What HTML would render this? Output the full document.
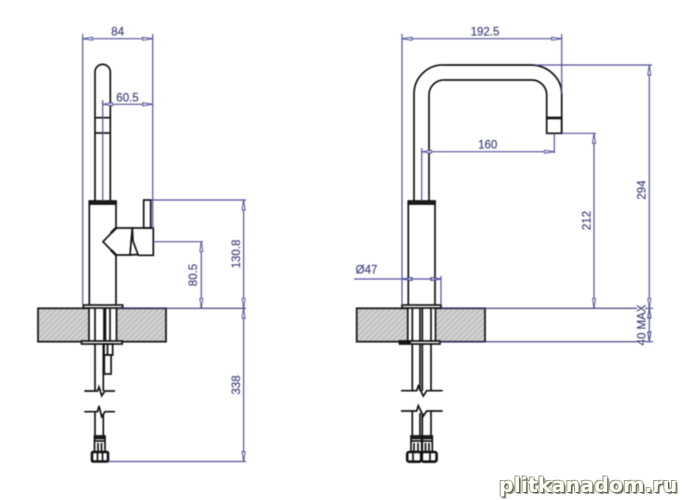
<!DOCTYPE html>
<html>
<head>
<meta charset="utf-8">
<style>
html,body{margin:0;padding:0;background:#fff;width:687px;height:500px;overflow:hidden}
svg{position:absolute;left:0;top:0;filter:blur(.4px)}
text{font-family:"Liberation Sans",sans-serif;font-size:11.5px;fill:#3c3c78;stroke:#3c3c78;stroke-width:.15;text-anchor:middle}
.d line,.d path{stroke:#50509a;stroke-width:1.2;fill:none}
.d line.a{marker-start:url(#ar);marker-end:url(#ar)}
.k line,.k path,.k rect,.k circle{stroke:#111;stroke-width:1.7;fill:none}
.k .w{fill:#fff}
.k .t{stroke-width:2.6}
.wm{position:absolute;left:499px;top:473px;width:187px;font:bold 20.5px "DejaVu Sans",sans-serif;letter-spacing:.1px;white-space:nowrap;color:#fcfcf2;text-shadow:-1px -1px 0 #9a9a8c,1px 1px 0 #5c5c50,2px 2px 0 #a5a598,1px -1px 0 #c5c5b8,-1px 1px 0 #c5c5b8}
</style>
</head>
<body>
<svg width="687" height="500" viewBox="0 0 687 500" xmlns="http://www.w3.org/2000/svg">
<defs>
<marker id="ar" markerUnits="userSpaceOnUse" markerWidth="14" markerHeight="6" refX="10.5" refY="3" orient="auto-start-reverse">
<path d="M.5,1.5 L10.5,3 L.5,4.5Z" fill="#fff" stroke="#50509a" stroke-width="1"/>
</marker>
<pattern id="h" width="4" height="4" patternUnits="userSpaceOnUse" patternTransform="rotate(-45)">
<rect width="4" height="4" fill="#c2c2c0"/>
<rect width="4" height="1.2" fill="#dcdcda"/>
</pattern>
</defs>

<!-- counters -->
<rect x="38" y="308.3" width="128" height="33.4" fill="url(#h)" stroke="#111" stroke-width="1.7"/>
<rect x="356.7" y="308.3" width="128.3" height="33.4" fill="url(#h)" stroke="#111" stroke-width="1.7"/>

<!-- LEFT faucet -->
<g class="k">
<rect class="w" x="89" y="308" width="28" height="33" style="stroke:none"/>
<line x1="89" y1="308" x2="89" y2="341"/><line x1="95" y1="308" x2="95" y2="341"/>
<line x1="104" y1="308" x2="104" y2="341"/><line class="t" x1="105" y1="308" x2="105" y2="341"/>
<line x1="110" y1="308" x2="110" y2="341"/><line x1="116.5" y1="308" x2="116.5" y2="341"/>
<path d="M95,201V72a7.6,7.6 0 0 1 15.3,0V201"/>
<line x1="95" y1="117.7" x2="110.3" y2="117.7"/><line x1="95" y1="133" x2="110.3" y2="133"/>
<line x1="89.3" y1="201" x2="89.3" y2="305"/><line x1="116" y1="201" x2="116" y2="228"/><line x1="116" y1="255" x2="116" y2="305"/>
<rect x="89.3" y="201" width="26.7" height="3" style="fill:#222"/>
<path d="M116,228 L103,241.7 L116,255 L130,255 L132.3,228Z"/>
<line class="t" x1="116" y1="228" x2="111" y2="233"/><line class="t" x1="116" y1="255" x2="111" y2="250"/>
<path d="M132.3,228 H153.3 V255.3 H138.3 L133,241 Z"/>
<line x1="130" y1="255" x2="138" y2="254.5"/>
<rect x="143.7" y="200" width="7" height="28"/>
<rect class="w" x="83.3" y="305" width="39.4" height="3"/>
<rect class="w" x="81.5" y="341" width="40.7" height="3"/>
<line x1="95" y1="344" x2="95" y2="391"/><line x1="103.3" y1="344" x2="103.3" y2="391"/>
<rect x="104" y="344" width="8.7" height="11"/>
<rect class="w" x="104.3" y="355" width="6.8" height="19"/>
<line x1="107.5" y1="344" x2="107.5" y2="355"/>
<path d="M84.3,391 H97.5 L99,387 L101.7,395.7 L105,391 H115"/>
<path d="M84.3,411.7 H97.5 L99,406 L101.7,416.7 L105,411.7 H115"/>
<line x1="95" y1="412" x2="95" y2="436"/><line x1="103.3" y1="414" x2="103.3" y2="436"/>
<rect x="94.5" y="436" width="10.5" height="16"/>
<line x1="94.5" y1="441" x2="105" y2="441"/><line class="t" x1="94.5" y1="438" x2="105" y2="438"/>
<line x1="98" y1="443" x2="98" y2="451"/><line x1="101.5" y1="443" x2="101.5" y2="451"/>
<rect class="t" x="92" y="452" width="16" height="9.5" rx="1"/>
<line x1="97.5" y1="452" x2="97.5" y2="461"/><line x1="102.5" y1="452" x2="102.5" y2="461"/>
</g>

<!-- RIGHT faucet -->
<g class="k">
<rect class="w" x="408" y="308" width="28.5" height="33" style="stroke:none"/>
<line x1="407.8" y1="308" x2="407.8" y2="341"/><line x1="412.3" y1="308" x2="412.3" y2="341"/>
<line x1="420" y1="308" x2="420" y2="341"/><line x1="422.3" y1="308" x2="422.3" y2="341"/>
<line x1="431" y1="308" x2="431" y2="341"/><line x1="435.5" y1="308" x2="435.5" y2="341"/>
<path d="M414,201V94A29,29 0 0 1 445,65H530A31,29 0 0 1 561.7,94V133.3"/>
<path d="M429,201V95A15,15 0 0 1 445,80H531.7A15,15 0 0 1 546.7,95V117.7"/>
<rect x="546.7" y="117.7" width="15" height="15.6"/>
<line class="t" x1="546.7" y1="118" x2="561.7" y2="118"/>
<line x1="408.3" y1="201" x2="408.3" y2="305"/><line x1="435" y1="201" x2="435" y2="305"/>
<rect x="408.3" y="201" width="26.7" height="3" style="fill:#222"/>
<rect class="w" x="402" y="305" width="39" height="3"/>
<rect class="w" x="399.5" y="341" width="40.5" height="3"/>
<line class="t" x1="400" y1="342" x2="411" y2="342"/>
<line x1="412.3" y1="344" x2="412.3" y2="391"/><line x1="420" y1="344" x2="420" y2="391"/>
<line x1="422.3" y1="344" x2="422.3" y2="391"/><line x1="431" y1="344" x2="431" y2="391"/>
<path d="M401,390.7 H416.7 L418.3,386 L423.3,396 L426.7,390.7 H442.7"/>
<path d="M401,411 H416.7 L418.3,405.7 L423.3,416 L426.7,411 H442.7"/>
<line x1="412.3" y1="411" x2="412.3" y2="436"/><line x1="420" y1="413" x2="420" y2="436"/>
<line x1="422.3" y1="413" x2="422.3" y2="436"/><line x1="431" y1="411" x2="431" y2="436"/>
<rect x="411" y="436" width="10.7" height="16"/><rect x="422.3" y="436" width="10" height="16"/>
<line class="t" x1="411" y1="438" x2="432.3" y2="438"/><line x1="411" y1="441" x2="432.3" y2="441"/>
<line x1="414" y1="443" x2="414" y2="451"/><line x1="418" y1="443" x2="418" y2="451"/>
<line x1="425.5" y1="443" x2="425.5" y2="451"/><line x1="429" y1="443" x2="429" y2="451"/>
<rect class="t" x="407.2" y="452" width="14" height="9.7" rx="2"/><rect class="t" x="421.8" y="452" width="14.8" height="9.7" rx="2"/>
<line x1="413" y1="452" x2="413" y2="461"/><line x1="430" y1="452" x2="430" y2="461"/>
</g>

<!-- LEFT dimensions -->
<g class="d">
<line x1="82.7" y1="34" x2="82.7" y2="305"/>
<line x1="152.7" y1="34" x2="152.7" y2="228"/>
<line class="a" x1="82.7" y1="38.7" x2="152.7" y2="38.7"/>
<line x1="102.7" y1="100" x2="102.7" y2="201"/>
<line class="a" x1="102.7" y1="104.3" x2="152.7" y2="104.3"/>
<line x1="150.7" y1="200" x2="246" y2="200"/>
<line class="a" x1="243.6" y1="200" x2="243.6" y2="308.3"/>
<line x1="153.3" y1="241.7" x2="203" y2="241.7"/>
<line class="a" x1="201.3" y1="241.7" x2="201.3" y2="308.3"/>
<line x1="117" y1="308.3" x2="246" y2="308.3" style="stroke:#33336f"/>
<line class="a" x1="243.6" y1="308.3" x2="243.6" y2="461.5"/>
<line x1="108" y1="461.5" x2="246" y2="461.5"/>
</g>

<!-- RIGHT dimensions -->
<g class="d">
<line x1="402" y1="34" x2="402" y2="305"/>
<line x1="561.7" y1="34" x2="561.7" y2="94"/>
<line class="a" x1="402" y1="38.7" x2="561.7" y2="38.7"/>
<line x1="535" y1="65" x2="652" y2="65"/>
<line class="a" x1="649.3" y1="65" x2="649.3" y2="308.3"/>
<line x1="561.7" y1="133.3" x2="596" y2="133.3"/>
<line class="a" x1="594" y1="133.3" x2="594" y2="308.3"/>
<line x1="554.3" y1="133.3" x2="554.3" y2="153"/>
<line x1="421.7" y1="148" x2="421.7" y2="201"/>
<line class="a" x1="421.7" y1="151.7" x2="554.3" y2="151.7"/>
<line x1="354" y1="279" x2="441" y2="279"/>
<line x1="441" y1="276" x2="441" y2="305"/>
<path d="M402,279 L412,277.6 V280.4 Z" style="fill:#fff"/>
<path d="M441,279 L431,277.6 V280.4 Z" style="fill:#fff"/>
<line x1="441" y1="308.3" x2="637" y2="308.3" style="stroke:#33336f"/>
<line x1="440" y1="341.7" x2="637" y2="341.7" style="stroke:#33336f"/>
<line x1="649.3" y1="308.3" x2="649.3" y2="341.7"/>
<line x1="645" y1="308.3" x2="653" y2="308.3"/>
<line x1="645" y1="341.7" x2="653" y2="341.7"/>
<path d="M649.3,308.5 L647.8,318 H650.8 Z" style="fill:#fff"/>
<path d="M649.3,341.5 L647.8,332 H650.8 Z" style="fill:#fff"/>
</g>

<!-- labels -->
<text x="117.7" y="35.5">84</text>
<text x="127.5" y="101.5">60.5</text>
<text x="485" y="35.5">192.5</text>
<text x="487.7" y="148.5">160</text>
<text x="366.5" y="273.5">Ø47</text>
<text transform="translate(240,254) rotate(-90)">130.8</text>
<text transform="translate(197,275) rotate(-90)">80.5</text>
<text transform="translate(240,385) rotate(-90)">338</text>
<text transform="translate(645.5,190) rotate(-90)">294</text>
<text transform="translate(590.5,220.5) rotate(-90)">212</text>
<text transform="translate(645.5,325) rotate(-90)">40 MAX</text>
</svg>
<div class="wm">plitkanadom.ru</div>
</body>
</html>
